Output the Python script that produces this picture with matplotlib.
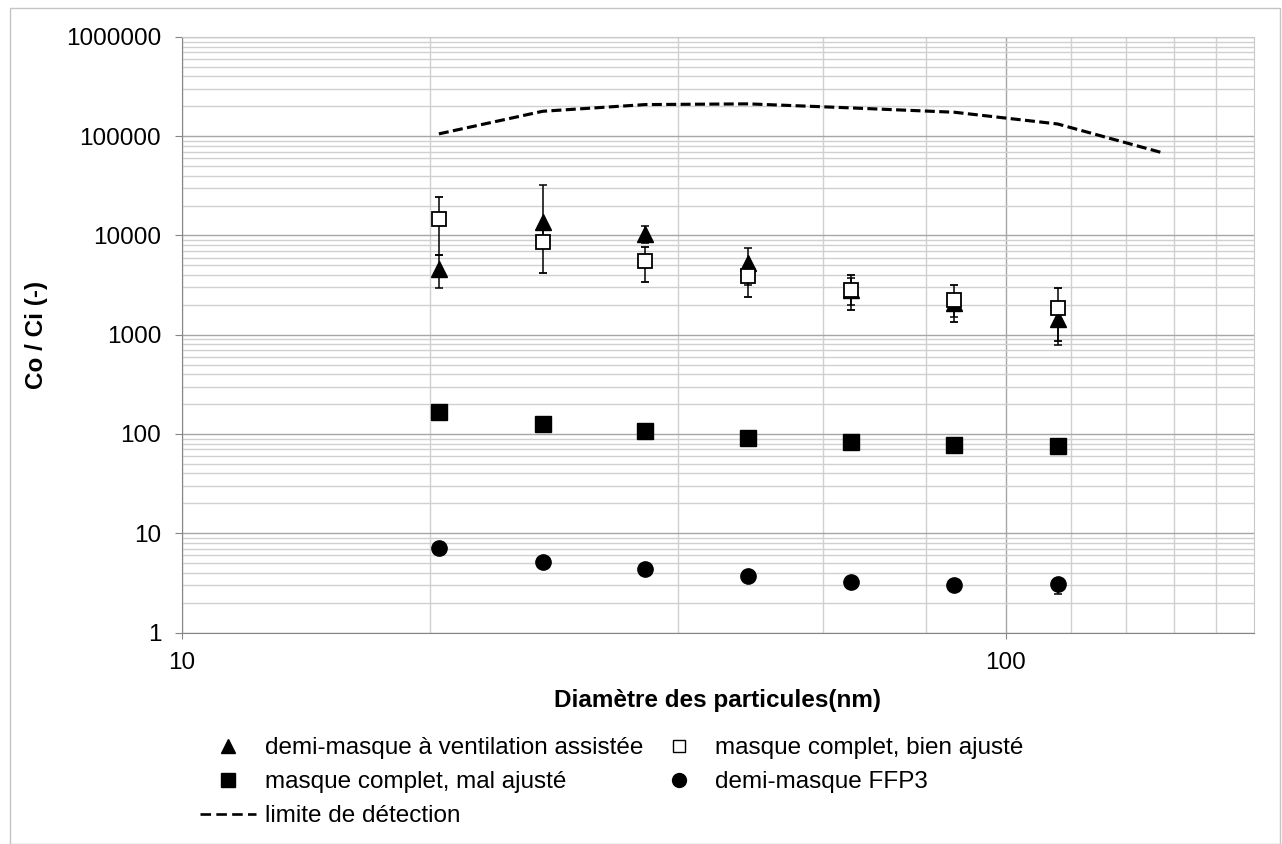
import matplotlib
matplotlib.use("Agg")
import matplotlib.pyplot as plt
from matplotlib.lines import Line2D
from matplotlib.patches import Rectangle
import matplotlib.ticker as mticker
import numpy as np

plt.rcParams['font.family'] = ['Liberation Sans', 'DejaVu Sans']

# ---- data ----
diam = [20.5, 27.4, 36.5, 48.7, 64.9, 86.6, 115.5]
diam_limit = [20.5, 27.4, 36.5, 48.7, 64.9, 86.6, 115.5, 154.0]
limit = [105700, 178500, 208500, 212000, 193000, 174500, 133000, 69000]

tri = [4550, 13600, 10400, 5260, 2800, 2070, 1430]
tri_low = [2950, 9500, 8370, 3140, 2000, 1500, 780]
tri_high = [6400, 32400, 12400, 7450, 3700, 2500, 1900]

sq_open = [14700, 8700, 5560, 3870, 2840, 2250, 1870]
sq_open_low = [6400, 4170, 3390, 2390, 1770, 1340, 860]
sq_open_high = [24300, 12000, 7630, 4700, 3960, 3190, 2950]

sq_fill = [165, 125, 106, 92, 84, 78, 76]

ffp3 = [7.05, 5.1, 4.35, 3.7, 3.2, 3.0, 3.05]
ffp3_low = [7.05, 5.1, 4.35, 3.7, 3.2, 3.0, 2.46]
ffp3_high = [7.05, 5.1, 4.35, 3.7, 3.2, 3.0, 3.4]

labels = ["demi-masque à ventilation assistée", "masque complet, bien ajusté",
          "masque complet, mal ajusté", "demi-masque FFP3", "limite de détection"]
x_title = "Diamètre des particules(nm)"
y_title = "Co / Ci (-)"

FS = 17.5

# ---- figure ----
W, H = 1282, 844
fig = plt.figure(figsize=(W/100, H/100), dpi=100)
fig.patches.append(Rectangle((10/W, 0), 1270/W, 1 - 8/H, transform=fig.transFigure,
                             fill=False, edgecolor='#c4c4c4', linewidth=1.0))
ax = fig.add_axes([182/W, 1 - 632.5/H, (1254-182)/W, (632.5-37)/H])
ax.set_xscale('log')
ax.set_yscale('log')
ax.set_xlim(10, 200)
ax.set_ylim(1, 1e6)

ax.set_xticks([10, 100])
ax.set_xticklabels(['10', '100'])
ax.set_xticks([20, 40, 60, 80, 120, 140, 160, 180], minor=True)
ax.set_yticks([1, 10, 100, 1000, 10000, 100000, 1000000])
ax.set_yticklabels(['1', '10', '100', '1000', '10000', '100000', '1000000'])
ax.set_yticks([m * 10**e for e in range(0, 6) for m in range(2, 10)], minor=True)
ax.xaxis.set_minor_formatter(mticker.NullFormatter())
ax.yaxis.set_minor_formatter(mticker.NullFormatter())
ax.tick_params(axis='both', which='minor', length=0)
ax.tick_params(axis='x', which='major', length=4, color='#868686', labelsize=FS, pad=10)
ax.tick_params(axis='y', which='major', length=5, color='#868686', labelsize=FS, pad=10)
ax.grid(True, which='major', color='#a6a6a6', linewidth=1.0)
ax.grid(True, which='minor', color='#d0d0d0', linewidth=1.0)
ax.set_axisbelow(True)
for s in ['left', 'bottom']:
    ax.spines[s].set_color('#868686')
for s in ['top', 'right']:
    ax.spines[s].set_color('#c8c8c8')

# ---- series ----
ax.plot(diam_limit, limit, color='black', linestyle=(0, (3.2, 1.4)), linewidth=2.25, zorder=3)

tri_err = [np.array(tri) - np.array(tri_low), np.array(tri_high) - np.array(tri)]
ax.errorbar(diam, tri, yerr=tri_err, fmt='^', color='black', markersize=11,
            ecolor='black', elinewidth=1.1, capsize=2.8, capthick=1.1, zorder=3)
sqo_err = [np.array(sq_open) - np.array(sq_open_low), np.array(sq_open_high) - np.array(sq_open)]
ax.errorbar(diam, sq_open, yerr=sqo_err, fmt='s', markerfacecolor='white',
            markeredgecolor='black', markeredgewidth=1.3, markersize=10.5,
            ecolor='black', elinewidth=1.1, capsize=2.8, capthick=1.1, zorder=4)
ax.plot(diam, sq_fill, 's', color='black', markersize=11, linestyle='none', zorder=4)
ffp_err = [np.array(ffp3) - np.array(ffp3_low), np.array(ffp3_high) - np.array(ffp3)]
ax.errorbar(diam, ffp3, yerr=ffp_err, fmt='o', color='black', markersize=11,
            ecolor='black', elinewidth=1.1, capsize=2.8, capthick=1.1, zorder=4)

ax.set_xlabel(x_title, fontsize=FS, fontweight='bold', labelpad=11)
ax.set_ylabel(y_title, fontsize=FS, fontweight='bold', labelpad=13)

# ---- legend ----
lh_tri = Line2D([], [], marker='^', color='black', linestyle='none', markersize=10)
lh_sqo = Line2D([], [], marker='s', markerfacecolor='white', markeredgecolor='black',
                linestyle='none', markersize=9)
lh_sqf = Line2D([], [], marker='s', color='black', linestyle='none', markersize=10)
lh_ffp = Line2D([], [], marker='o', color='black', linestyle='none', markersize=10)
lh_lim = Line2D([], [], color='black', linestyle=(0, (4, 2)), linewidth=1.9)
fig.legend([lh_tri, lh_sqf, lh_lim, lh_sqo, lh_ffp],
           [labels[0], labels[2], labels[4], labels[1], labels[3]],
           ncol=2, loc='upper left', bbox_to_anchor=(200/W, 1 - 737/H),
           frameon=False, fontsize=FS, handlelength=2.3, handletextpad=0.37,
           columnspacing=0.3, labelspacing=0.5, borderaxespad=0, borderpad=0)

fig.savefig('out.png', dpi=100)
